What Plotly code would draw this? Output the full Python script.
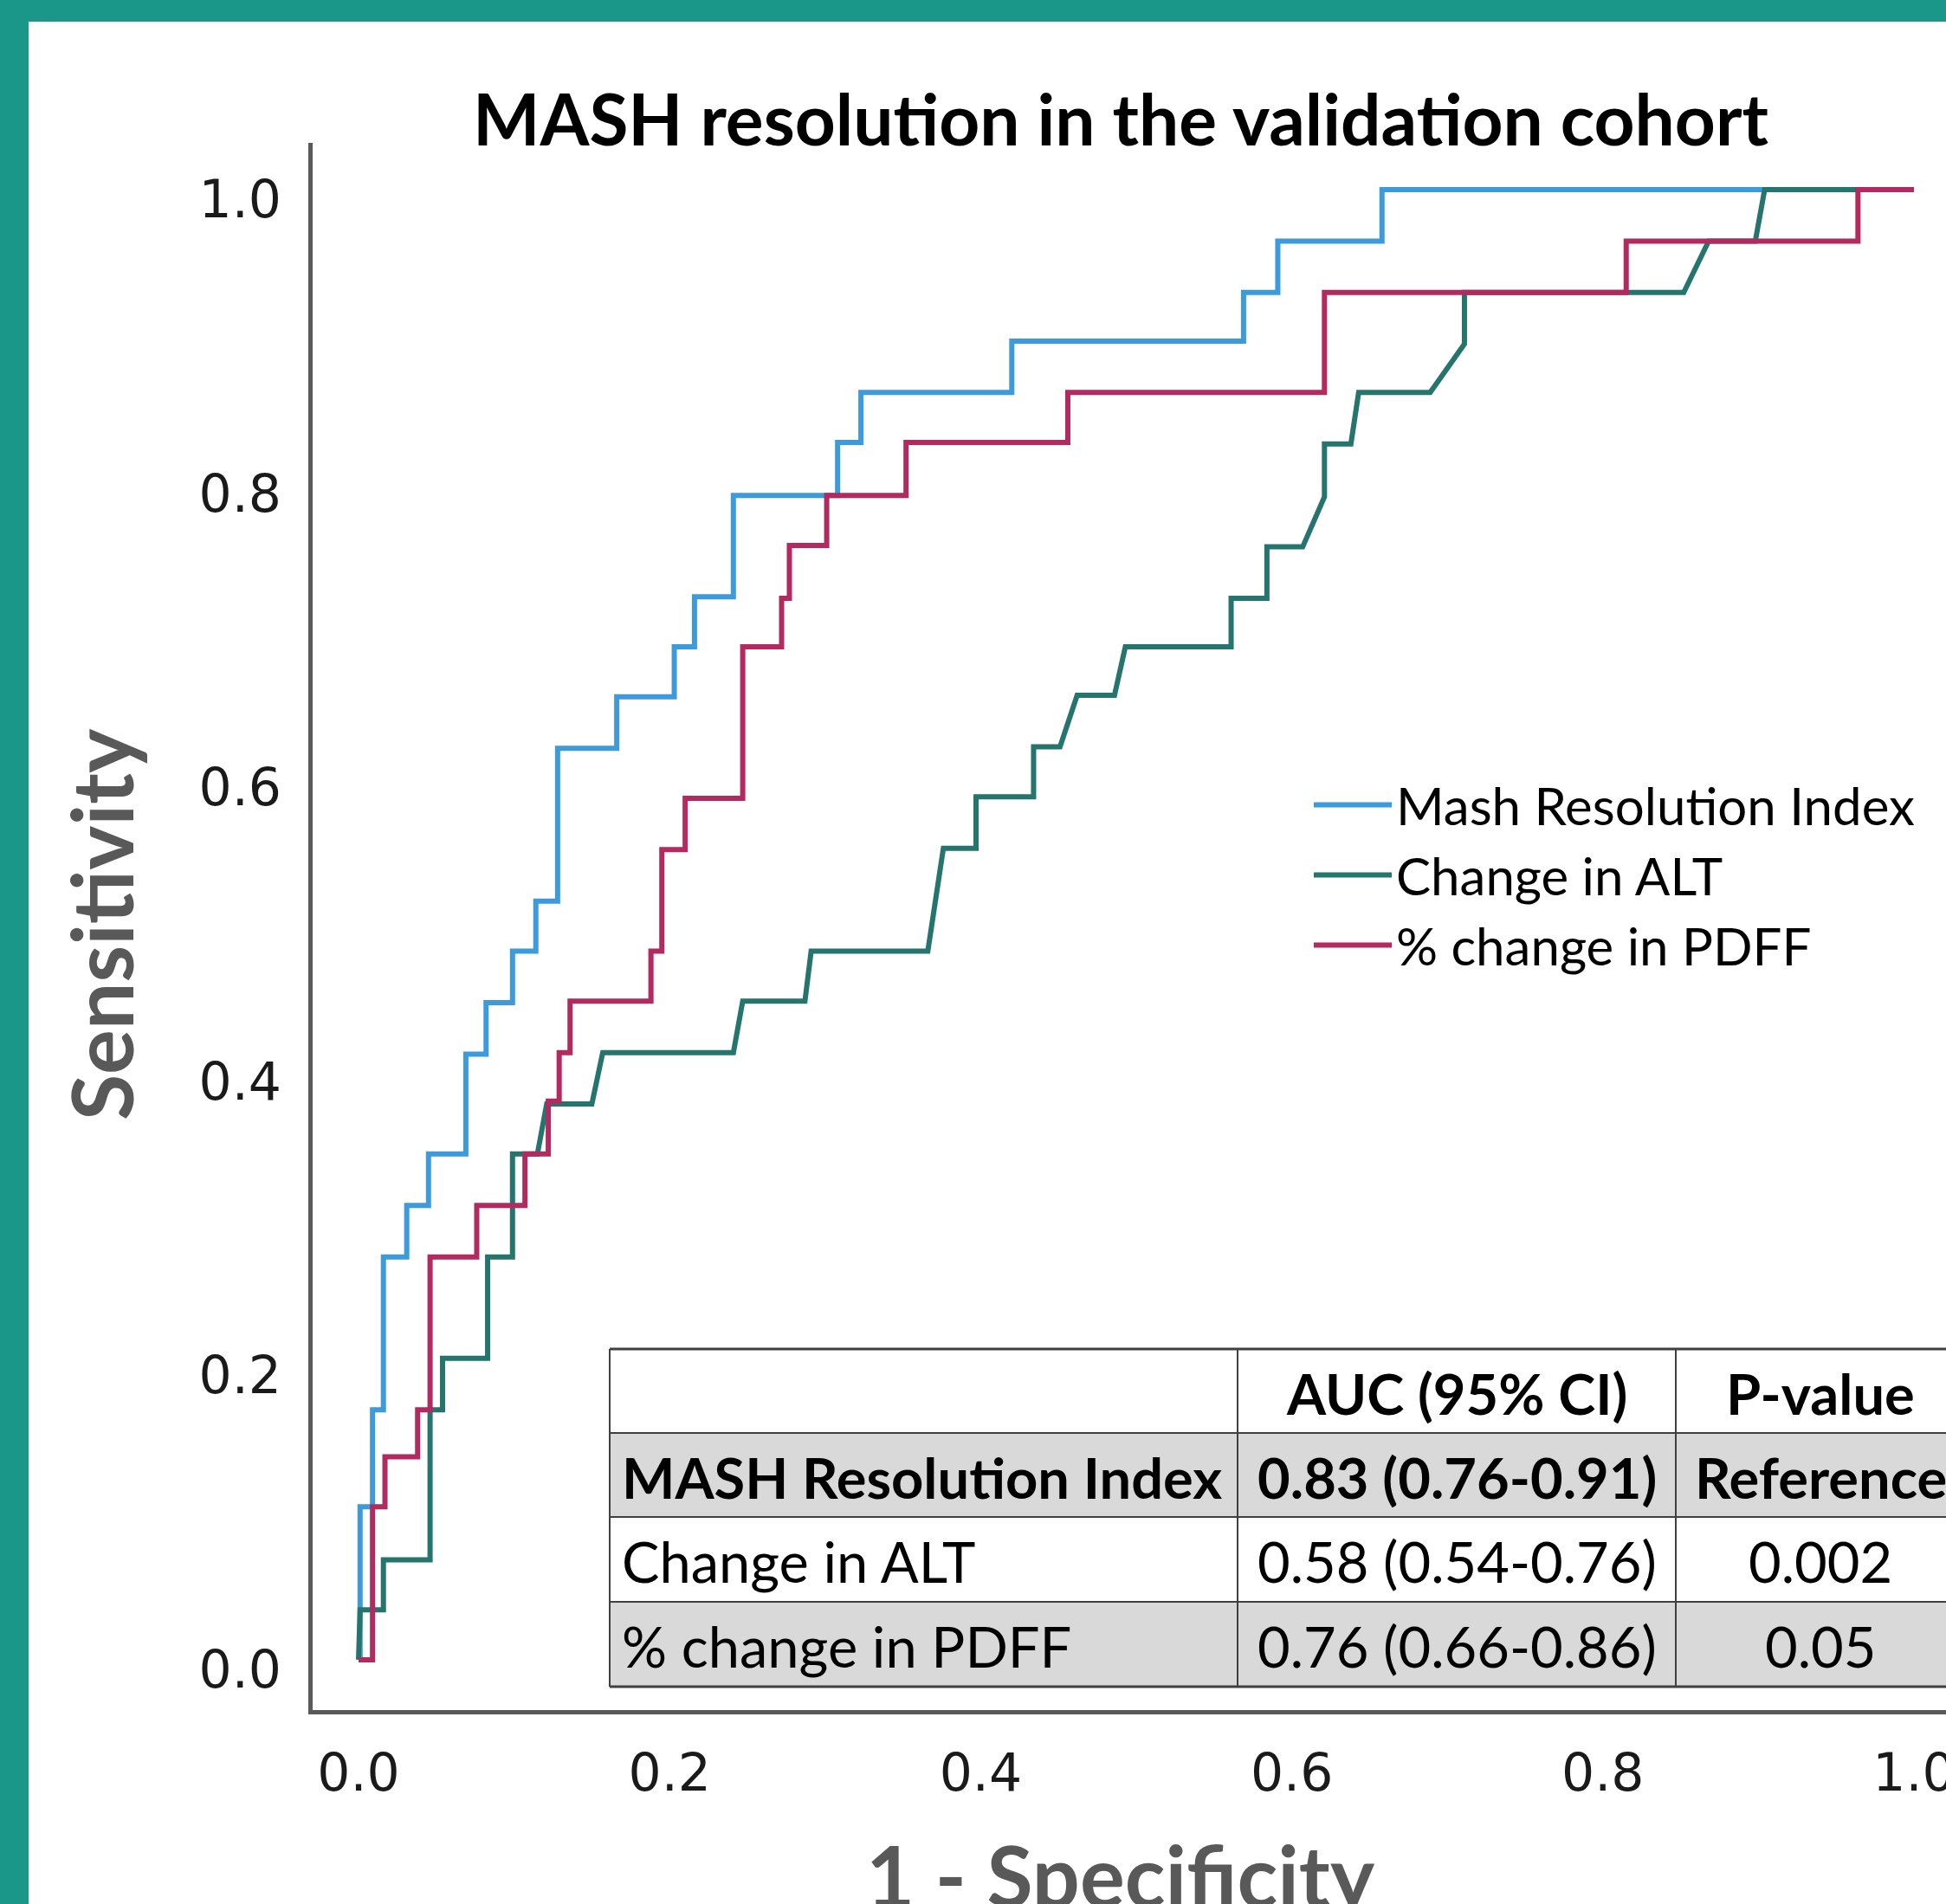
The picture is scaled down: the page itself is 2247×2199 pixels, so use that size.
import plotly.graph_objects as go

# ---------------- data ----------------
series_names = ["Mash Resolution Index", "Change in ALT", "% change in PDFF"]

mri_fpr = [0.0, 0.001, 0.009, 0.016, 0.031, 0.045, 0.069, 0.082, 0.099, 0.114, 0.128,
           0.166, 0.203, 0.216, 0.241, 0.308, 0.323, 0.420, 0.569, 0.591, 0.658, 1.0]
mri_tpr = [0.0, 0.104, 0.170, 0.274, 0.309, 0.344, 0.412, 0.447, 0.482, 0.516, 0.620,
           0.655, 0.689, 0.723, 0.792, 0.828, 0.862, 0.897, 0.930, 0.965, 1.0, 1.0]

pdff_fpr = [0.0, 0.009, 0.017, 0.038, 0.046, 0.076, 0.107, 0.122, 0.129, 0.136, 0.188,
            0.195, 0.210, 0.247, 0.272, 0.277, 0.301, 0.352, 0.456, 0.621, 0.815, 0.964, 1.0]
pdff_tpr = [0.0, 0.104, 0.138, 0.170, 0.274, 0.309, 0.344, 0.380, 0.413, 0.448, 0.482,
            0.551, 0.586, 0.689, 0.722, 0.758, 0.792, 0.828, 0.862, 0.930, 0.965, 1.0, 1.0]

alt_fpr = [0.0, 0.001, 0.016, 0.016, 0.046, 0.046, 0.054, 0.054, 0.083, 0.083, 0.099, 0.099,
           0.115, 0.121, 0.150, 0.157, 0.241, 0.247, 0.287, 0.291, 0.366, 0.376, 0.397, 0.397,
           0.434, 0.434, 0.451, 0.462, 0.486, 0.493, 0.561, 0.561, 0.584, 0.584, 0.607, 0.621,
           0.621, 0.638, 0.643, 0.689, 0.711, 0.711, 0.852, 0.868, 0.898, 0.904, 1.0]
alt_tpr = [0.0, 0.034, 0.034, 0.068, 0.068, 0.170, 0.170, 0.205, 0.205, 0.274, 0.274, 0.344,
           0.344, 0.378, 0.378, 0.413, 0.413, 0.448, 0.448, 0.482, 0.482, 0.552, 0.552, 0.587,
           0.587, 0.621, 0.621, 0.656, 0.656, 0.689, 0.689, 0.722, 0.722, 0.757, 0.757, 0.791,
           0.827, 0.827, 0.862, 0.862, 0.895, 0.930, 0.930, 0.965, 0.965, 1.0, 1.0]

tick_vals = [0.0, 0.2, 0.4, 0.6, 0.8, 1.0]
tick_text = ["0.0", "0.2", "0.4", "0.6", "0.8", "1.0"]

table_header = ["", "AUC (95% CI)", "P-value"]
table_rows = [
    ["MASH Resolution Index", "0.83 (0.76-0.91)", "Reference"],
    ["Change in ALT", "0.58 (0.54-0.76)", "0.002"],
    ["% change in PDFF", "0.76 (0.66-0.86)", "0.05"],
]

# ---------------- layout geometry (pixels) ----------------
W, H = 2247, 2199
ML, MR, MT, MB = 361, 0, 165, 224


def px_x(p):
    return (p - ML) / (W - ML - MR)


def px_y(p):
    return (H - MB - p) / (H - MT - MB)


BLUE = "#3d9bdc"
TEAL = "#25756e"
PINK = "#b22a5f"
TEAL_FRAME = "#1b9789"
GREY_TXT = "#595959"

fig = go.Figure()
fig.add_trace(go.Scatter(x=mri_fpr, y=mri_tpr, mode="lines", name=series_names[0],
                         line=dict(color=BLUE, width=6, shape="hv")))
fig.add_trace(go.Scatter(x=alt_fpr, y=alt_tpr, mode="lines", name=series_names[1],
                         line=dict(color=TEAL, width=6)))
fig.add_trace(go.Scatter(x=pdff_fpr, y=pdff_tpr, mode="lines", name=series_names[2],
                         line=dict(color=PINK, width=6, shape="hv")))

shapes = []
# teal frame
shapes.append(dict(type="rect", xref="paper", yref="paper", x0=px_x(0), x1=px_x(33),
                   y0=px_y(H + 5), y1=px_y(-5), fillcolor=TEAL_FRAME, line_width=0))
shapes.append(dict(type="rect", xref="paper", yref="paper", x0=px_x(0), x1=px_x(W + 5),
                   y0=px_y(25), y1=px_y(-5), fillcolor=TEAL_FRAME, line_width=0))

# table
tx = [704, 1429, 1935, 2300]
ty = [1558, 1655, 1752, 1850, 1948]
row_fill = ["white", "#d9d9d9", "white", "#d9d9d9"]
for i in range(4):
    shapes.append(dict(type="rect", xref="paper", yref="paper", layer="above",
                       x0=px_x(tx[0]), x1=px_x(tx[3]), y0=px_y(ty[i + 1]), y1=px_y(ty[i]),
                       fillcolor=row_fill[i], line_width=0))
for i, yy in enumerate(ty):
    shapes.append(dict(type="line", xref="paper", yref="paper", layer="above",
                       x0=px_x(tx[0]), x1=px_x(tx[3]), y0=px_y(yy), y1=px_y(yy),
                       line=dict(color="#404040", width=3 if i in (0, 4) else 2)))
for xx in tx[:3]:
    shapes.append(dict(type="line", xref="paper", yref="paper", layer="above",
                       x0=px_x(xx), x1=px_x(xx), y0=px_y(ty[4]), y1=px_y(ty[0]),
                       line=dict(color="#404040", width=2)))

annotations = []
col_x = [716, 1682, 2102]
row_y = [(ty[i] + ty[i + 1]) / 2 for i in range(4)]
all_rows = [table_header] + table_rows
for r, row in enumerate(all_rows):
    bold = r in (0, 1)
    for c, txt in enumerate(row):
        if not txt:
            continue
        annotations.append(dict(
            xref="paper", yref="paper", x=px_x(col_x[c]), y=px_y(row_y[r] + 2),
            text=txt, showarrow=False, xanchor="left" if c == 0 else "center",
            yanchor="middle",
            font=dict(family="Lato", size=65, color="black", weight=700 if bold else 400)))

# axis titles
annotations.append(dict(xref="paper", yref="paper", x=px_x(1294), y=px_y(2165),
                        text="1 - Specificity", showarrow=False, xanchor="center",
                        yanchor="middle",
                        font=dict(family="Lato", size=97, color=GREY_TXT, weight=700)))
annotations.append(dict(xref="paper", yref="paper", x=px_x(116), y=px_y(1068),
                        text="Sensitivity", showarrow=False, xanchor="center",
                        yanchor="middle", textangle=-90,
                        font=dict(family="Lato", size=97, color=GREY_TXT, weight=700)))

fig.update_layout(
    width=W, height=H,
    margin=dict(l=ML, r=MR, t=MT, b=MB, pad=0, autoexpand=False),
    paper_bgcolor="white", plot_bgcolor="white",
    title=dict(text="MASH resolution in the validation cohort", xref="paper",
               x=px_x(1294), xanchor="center", yref="container", y=1 - 139 / H,
               yanchor="middle",
               font=dict(family="Lato", size=82, color="black", weight=700)),
    xaxis=dict(range=[-0.0295, 1.0206], showgrid=False, zeroline=False,
               showline=True, linecolor="#5a5a5a", linewidth=5,
               tickvals=tick_vals, ticktext=tick_text, ticks="",
               ticklabelstandoff=16, ticklabeloverflow="allow",
               tickfont=dict(family="DejaVu Sans", size=60, color="#1a1a1a")),
    yaxis=dict(range=[-0.0342, 1.0318], showgrid=False, zeroline=False,
               showline=True, linecolor="#5a5a5a", linewidth=5,
               tickvals=tick_vals, ticktext=tick_text, ticks="",
               ticklabelstandoff=19, ticklabelshift=11, ticklabeloverflow="allow",
               tickfont=dict(family="DejaVu Sans", size=60, color="#1a1a1a")),
    legend=dict(x=px_x(1512), y=px_y(884), xanchor="left", yanchor="top",
                bgcolor="rgba(0,0,0,0)", itemwidth=90, tracegroupgap=0,
                font=dict(family="Lato", size=60, color="black")),
    showlegend=True,
    shapes=shapes,
    annotations=annotations,
)

fig.write_html("out.html")
